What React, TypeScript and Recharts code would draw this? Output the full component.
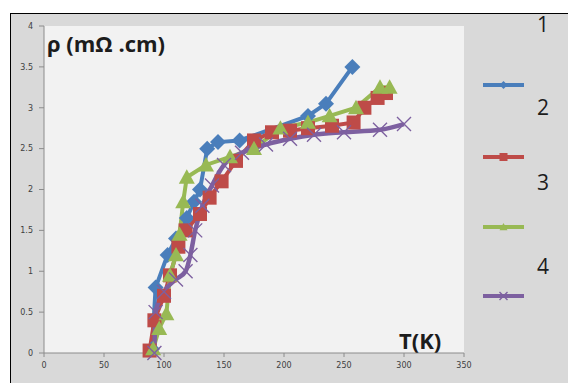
import React from 'react';
import { CartesianGrid, ComposedChart, Line, XAxis, YAxis } from 'recharts';

// resistivity vs temperature, four samples
const t2 = [90, 93, 103, 110, 119, 125, 130, 136, 145, 163, 220, 235, 257];
const r2 = [0.05, 0.8, 1.2, 1.4, 1.65, 1.85, 2.0, 2.5, 2.58, 2.6, 2.9, 3.05, 3.5];

const t3 = [88, 92, 100, 105, 112, 118, 130, 138, 148, 160, 175, 190, 205, 220, 240, 258, 267, 278, 285];
const r3 = [0.03, 0.4, 0.7, 0.95, 1.3, 1.5, 1.7, 1.9, 2.1, 2.35, 2.6, 2.7, 2.72, 2.75, 2.78, 2.82, 3.0, 3.12, 3.18];

const t4 = [91, 96, 102, 105, 110, 113, 116, 119, 135, 155, 175, 197, 220, 238, 260, 280, 288];
const r4 = [0.05, 0.3, 0.48, 0.95, 1.2, 1.45, 1.85, 2.15, 2.3, 2.4, 2.5, 2.75, 2.82, 2.9, 3.0, 3.25, 3.25];

const t5 = [92, 93, 100, 110, 118, 122, 126, 132, 140, 150, 165, 185, 205, 225, 250, 280, 300];
const r5 = [0, 0.5, 0.75, 0.9, 1.0, 1.2, 1.5, 1.8, 2.05, 2.3, 2.45, 2.55, 2.62, 2.67, 2.7, 2.73, 2.8];

const xTicks = [0, 50, 100, 150, 200, 250, 300, 350];
const yTicks = [0, 0.5, 1, 1.5, 2, 2.5, 3, 3.5, 4];
const legendLabels = ['1', '2', '3', '4'];

const BLUE = '#4a7ebb';
const RED = '#be4b48';
const GREEN = '#98b954';
const PURPLE = '#7d60a0';

const zip = (t: number[], r: number[]) => t.map((T, i) => ({ T, rho: r[i] }));

const Diamond = ({ cx, cy, s = 8 }: any) => (
  <path d={`M${cx},${cy - s}L${cx + s},${cy}L${cx},${cy + s}L${cx - s},${cy}Z`} fill={BLUE} />
);
const Square = ({ cx, cy, s = 7 }: any) => (
  <rect x={cx - s} y={cy - s} width={s * 2} height={s * 2} fill={RED} />
);
const Tri = ({ cx, cy, s = 8 }: any) => (
  <path d={`M${cx},${cy - s}L${cx + s},${cy + s * 0.8}L${cx - s},${cy + s * 0.8}Z`} fill={GREEN} />
);
const Cross = ({ cx, cy, s = 7 }: any) => (
  <path d={`M${cx - s},${cy - s}L${cx + s},${cy + s}M${cx + s},${cy - s}L${cx - s},${cy + s}`} stroke={PURPLE} strokeWidth={1.4} />
);

const legendItems = [
  { color: BLUE, Mark: Diamond, y: 85 },
  { color: RED, Mark: Square, y: 157 },
  { color: GREEN, Mark: Tri, y: 227 },
  { color: PURPLE, Mark: Cross, y: 296 },
];
const labelY = [25, 108, 183, 267];

const textFont = '"Open Sans", Lato, sans-serif';

export default function App() {
  return (
    <div style={{ position: 'fixed', left: 0, top: 0, width: 568, height: 383, background: '#fff' }}>
      <div
        style={{
          position: 'absolute',
          left: 10,
          top: 13,
          width: 558,
          height: 370,
          background: '#d9d9d9',
          borderTop: '1px solid #000',
          borderLeft: '1px solid #000',
          boxSizing: 'border-box',
        }}
      />
      <div style={{ position: 'absolute', left: 0, top: 0 }}>
        <ComposedChart width={568} height={383} margin={{ top: 26, right: 104, bottom: 10, left: 10 }}>
          <CartesianGrid fill="#f2f2f2" horizontal={false} vertical={false} />
          <XAxis
            type="number"
            dataKey="T"
            domain={[0, 350]}
            ticks={xTicks}
            height={20}
            tickSize={4}
            tickMargin={5}
            stroke="#8c8c8c"
            tick={{ fontSize: 8, fill: '#404040', fontFamily: 'DejaVu Sans' }}
          />
          <YAxis
            type="number"
            dataKey="rho"
            domain={[0, 4]}
            ticks={yTicks}
            width={34}
            tickSize={5}
            tickMargin={6}
            stroke="#8c8c8c"
            tick={{ fontSize: 8, fill: '#404040', fontFamily: 'DejaVu Sans' }}
          />
          <Line data={zip(t2, r2)} dataKey="rho" type="linear" stroke={BLUE} strokeWidth={4} dot={(p: any) => <Diamond key={p.index} cx={p.cx} cy={p.cy} />} isAnimationActive={false} />
          <Line data={zip(t3, r3)} dataKey="rho" type="linear" stroke={RED} strokeWidth={4} dot={(p: any) => <Square key={p.index} cx={p.cx} cy={p.cy} />} isAnimationActive={false} />
          <Line data={zip(t4, r4)} dataKey="rho" type="linear" stroke={GREEN} strokeWidth={4} dot={(p: any) => <Tri key={p.index} cx={p.cx} cy={p.cy} />} isAnimationActive={false} />
          <Line data={zip(t5, r5)} dataKey="rho" type="monotone" stroke={PURPLE} strokeWidth={4.5} dot={(p: any) => <Cross key={p.index} cx={p.cx} cy={p.cy} />} isAnimationActive={false} />
        </ComposedChart>
      </div>
      <svg width={568} height={383} style={{ position: 'absolute', left: 0, top: 0, pointerEvents: 'none' }}>
        <text x={47} y={52} fontSize={22} fontWeight={700} fill="#1c1c1c" fontFamily={textFont}>
          ρ (mΩ .cm)
        </text>
        <text x={399} y={349} fontSize={22} fontWeight={700} fill="#1c1c1c" fontFamily={textFont}>
          T(K)
        </text>
        {legendItems.map((it, i) => (
          <g key={i}>
            <line x1={483} x2={524} y1={it.y} y2={it.y} stroke={it.color} strokeWidth={4} />
            <it.Mark cx={503.5} cy={it.y} s={4} />
          </g>
        ))}
        {legendLabels.map((l, i) => (
          <text key={l} x={543} y={labelY[i] + 7} fontSize={21} textAnchor="middle" fill="#1c1c1c" fontFamily={textFont}>
            {l}
          </text>
        ))}
      </svg>
    </div>
  );
}
